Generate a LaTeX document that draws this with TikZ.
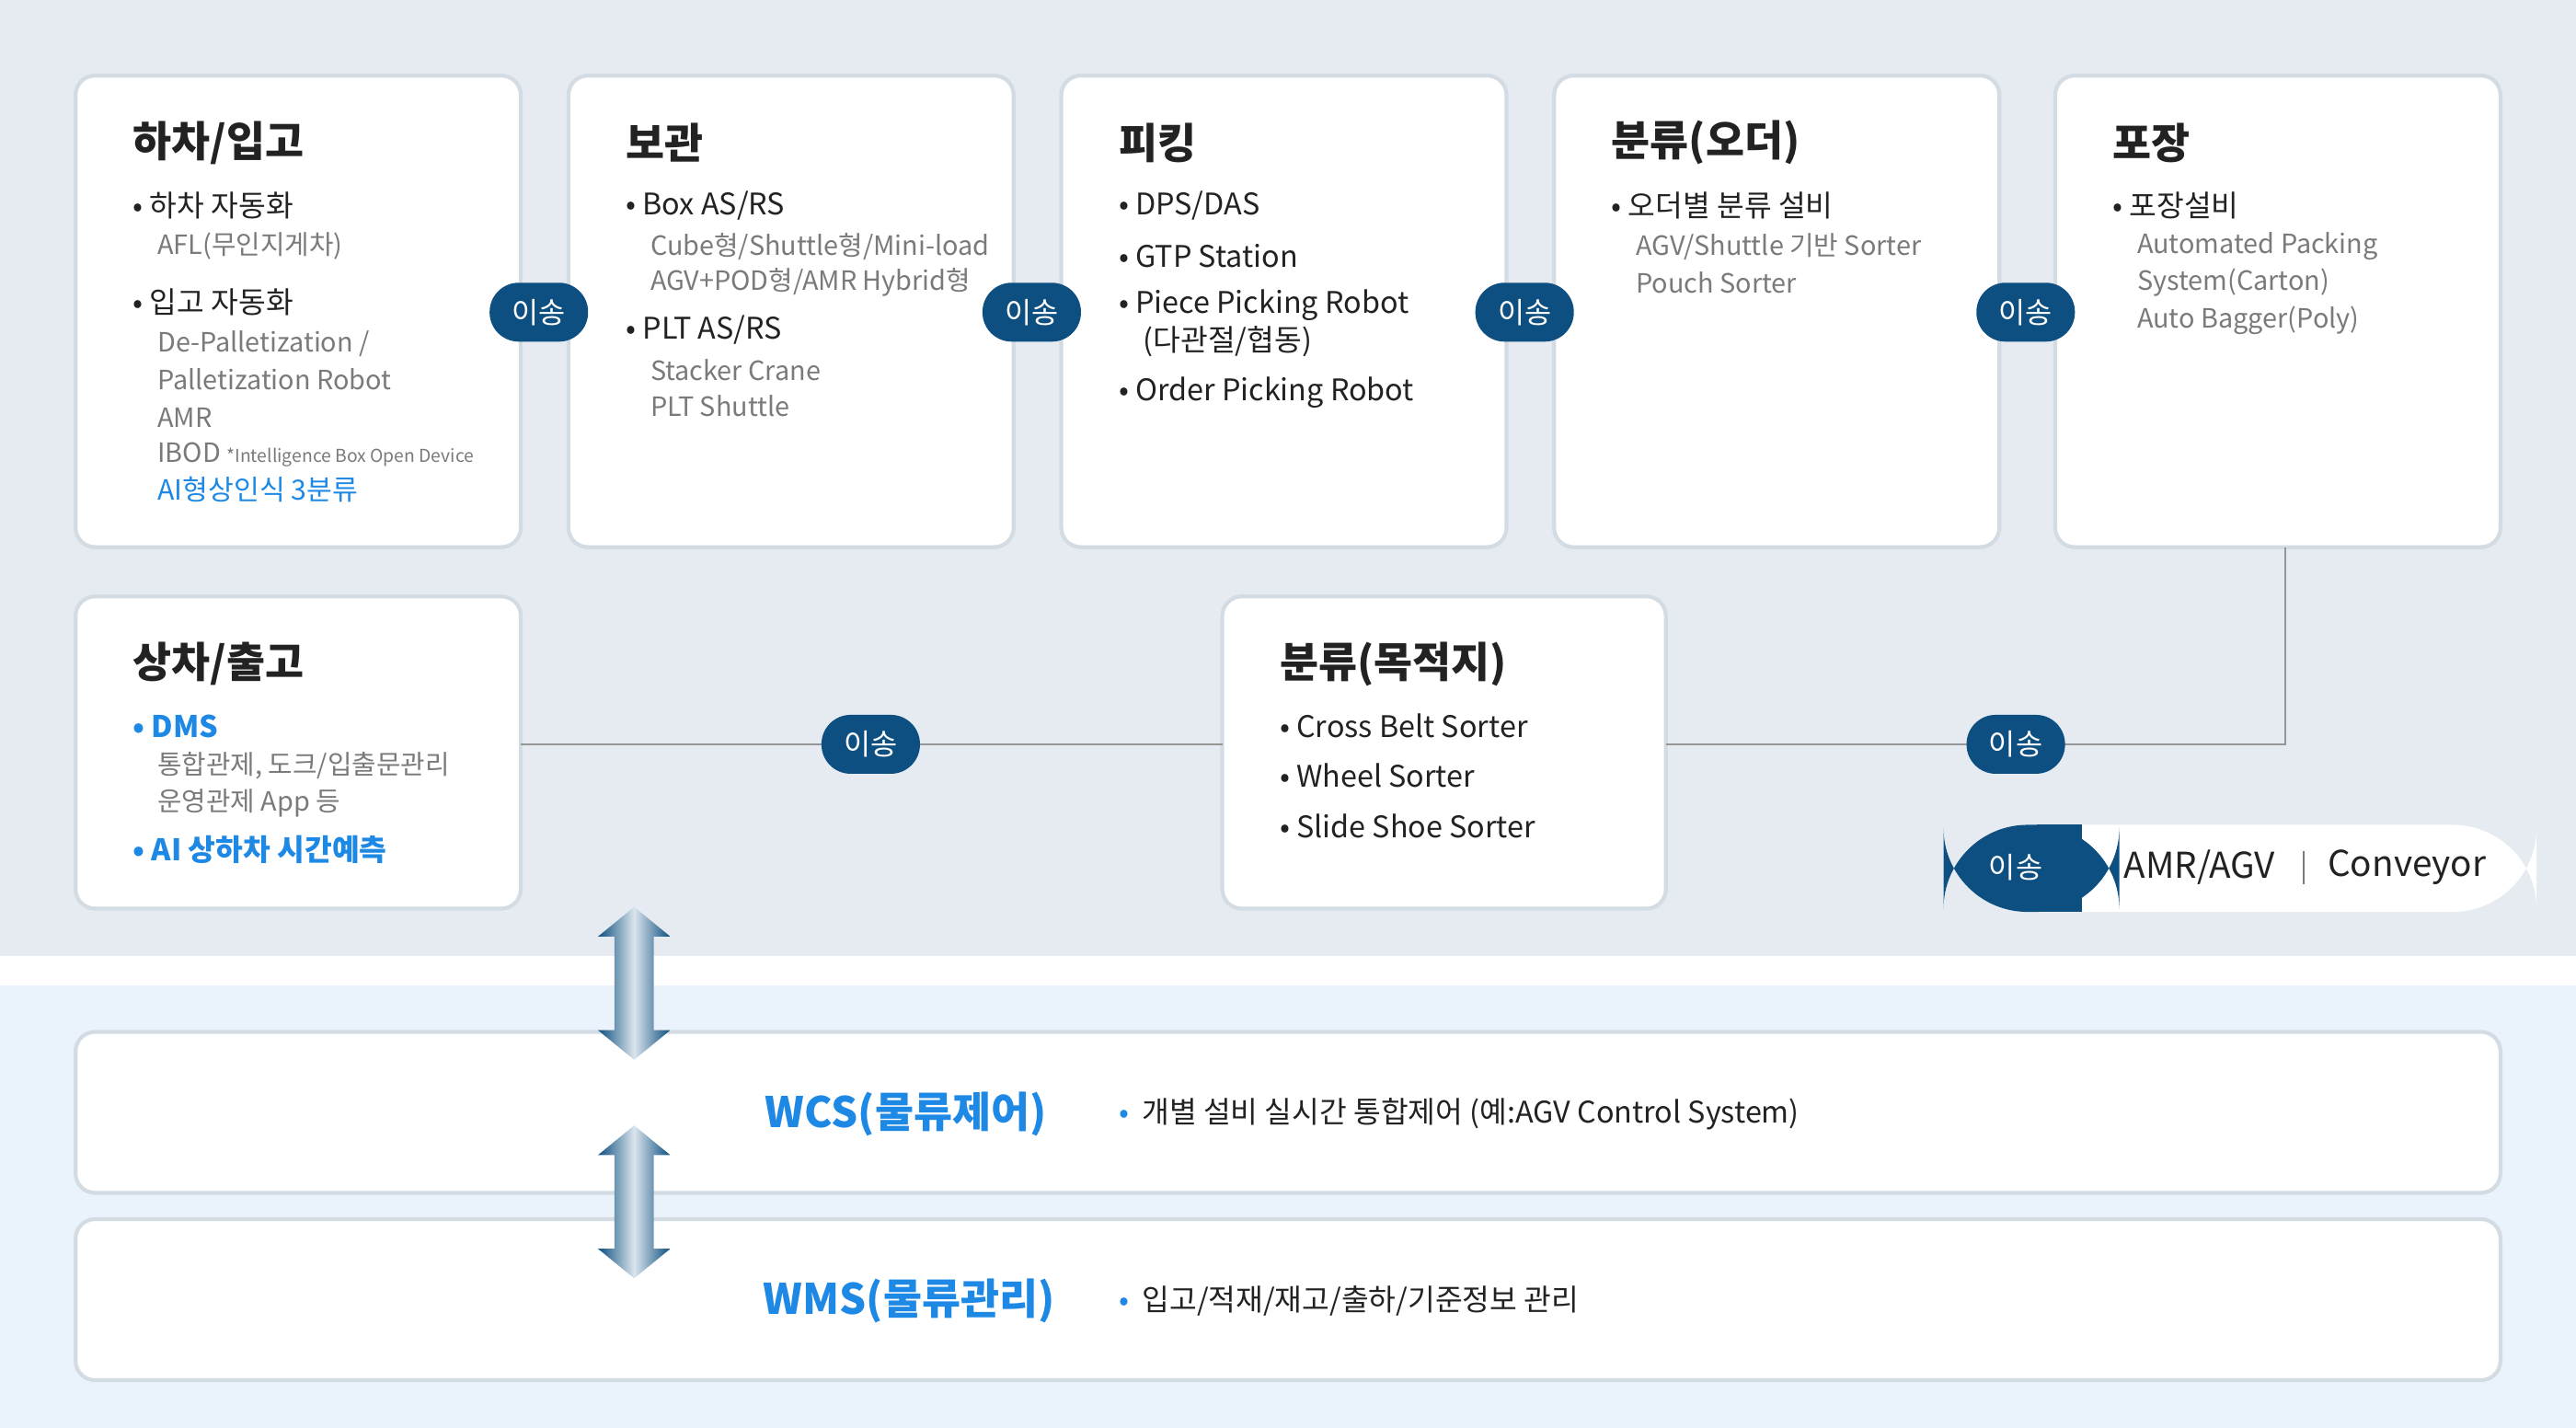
\documentclass[tikz,border=0pt]{standalone}
\usepackage{fontspec}
\setmainfont{Noto Sans CJK KR}
\usetikzlibrary{positioning}
\definecolor{bgtop}{HTML}{E5EBF1}
\definecolor{bgbot}{HTML}{EAF3FB}
\definecolor{frame}{HTML}{D3DBE3}
\definecolor{pill}{HTML}{0D4F80}
\definecolor{ink}{HTML}{222222}
\definecolor{sub}{HTML}{7A7A7A}
\definecolor{accent}{HTML}{1E88E5}
\tikzset{
  card/.style={draw=frame,line width=1.2pt,fill=white,rounded corners=6pt},
  ttl/.style={anchor=west,font=\fontsize{13}{13}\selectfont\bfseries,text=ink},
  itm/.style={anchor=west,font=\fontsize{9.2}{9.2}\selectfont,text=ink},
  gry/.style={anchor=west,font=\fontsize{8.2}{8.2}\selectfont,text=sub},
  blu/.style={anchor=west,font=\fontsize{8.6}{8.6}\selectfont,text=accent},
  move/.style={fill=pill,text=white,rounded corners=9pt,minimum width=1.07cm,minimum height=0.64cm,inner sep=0pt,font=\fontsize{9}{9}\selectfont},
  link/.style={draw=sub!80,line width=0.6pt}
}
\newcommand{\twoarrow}[2]{% x, top y
  \shade[left color=pill,right color=pill,middle color=white!85!pill]
    (#1-22,#2+18)--(#1,#2)--(#1+22,#2+18)--(#1+12,#2+18)--(#1+12,#2+75)--(#1+22,#2+75)
    --(#1,#2+93)--(#1-22,#2+75)--(#1-12,#2+75)--(#1-12,#2+18)--cycle;}
\begin{document}
\begin{tikzpicture}[x=0.017857cm,y=-0.017857cm]
\fill[bgtop] (0,0) rectangle (1568,582);
\fill[white] (0,582) rectangle (1568,600);
\fill[bgbot] (0,600) rectangle (1568,869);
\useasboundingbox (0,0) rectangle (1568,869);

% top row
\draw[card] (46,46) rectangle (317,333);
\draw[card] (346,46) rectangle (617,333);
\draw[card] (646,46) rectangle (917,333);
\draw[card] (946,46) rectangle (1217,333);
\draw[card] (1251,46) rectangle (1522,333);
% second row
\draw[card] (46,363) rectangle (317,553);
\draw[card] (744,363) rectangle (1014,553);

% connectors
\coordinate (pkbot) at (1391,333);
\coordinate (pkcorner) at (1391,453);
\draw[link] (317,453) -- (744,453);
\draw[link] (1014,453) -- (pkcorner) -- (pkbot);

% box 1
\node[ttl] (t1) at (74,87) {하차/입고};
\node[itm] (a1) at (74,125) {•\ 하차 자동화};
\node[gry] (a2) at (89,150) {AFL(무인지게차)};
\node[itm] (a3) at (74,184) {•\ 입고 자동화};
\node[gry] (a4) at (89,209) {De-Palletization /};
\node[gry] (a5) at (89,231) {Palletization Robot};
\node[gry] (a6) at (89,254) {AMR};
\node[gry] (a7) at (89,277) {IBOD \fontsize{5.5}{5.5}\selectfont *Intelligence Box Open Device};
\node[blu] (a8) at (89,298) {AI형상인식 3분류};
% box 2
\node[ttl] (t2) at (374,87) {보관};
\node[itm] (b1) at (374,125) {•\ Box AS/RS};
\node[gry] (b2) at (389,150) {Cube형/Shuttle형/Mini-load};
\node[gry] (b3) at (389,172) {AGV+POD형/AMR Hybrid형};
\node[itm] (b4) at (374,201) {•\ PLT AS/RS};
\node[gry] (b5) at (389,225) {Stacker Crane};
\node[gry] (b6) at (389,247) {PLT Shuttle};
% box 3
\node[ttl] (t3) at (674,87) {피킹};
\node[itm] (c1) at (674,125) {•\ DPS/DAS};
\node[itm] (c2) at (674,156) {•\ GTP Station};
\node[itm] (c3) at (674,186) {•\ Piece Picking Robot};
\node[itm] (c4) at (689,208) {(다관절/협동)};
\node[itm] (c5) at (674,239) {•\ Order Picking Robot};
% box 4
\node[ttl] (t4) at (974,87) {분류(오더)};
\node[itm] (d1) at (974,125) {•\ 오더별 분류 설비};
\node[gry] (d2) at (989,150) {AGV/Shuttle 기반 Sorter};
\node[gry] (d3) at (989,172) {Pouch Sorter};
% box 5
\node[ttl] (t5) at (1279,87) {포장};
\node[itm] (e1) at (1279,125) {•\ 포장설비};
\node[gry] (e2) at (1294,150) {Automated Packing};
\node[gry] (e3) at (1294,172) {System(Carton)};
\node[gry] (e4) at (1294,195) {Auto Bagger(Poly)};
% box 6
\node[ttl] (t6) at (74,404) {상차/출고};
\node[blu,font=\fontsize{9.2}{9.2}\selectfont\bfseries] (f1) at (74,442) {•\ DMS};
\node[gry] (f2) at (89,466) {통합관제, 도크/입출문관리};
\node[gry] (f3) at (89,489) {운영관제 App 등};
\node[blu,font=\fontsize{9.2}{9.2}\selectfont\bfseries] (f4) at (74,517) {•\ AI 상하차 시간예측};
% box 7
\node[ttl] (t7) at (772,404) {분류(목적지)};
\node[itm] (g1) at (772,442) {•\ Cross Belt Sorter};
\node[itm] (g2) at (772,472) {•\ Wheel Sorter};
\node[itm] (g3) at (772,503) {•\ Slide Shoe Sorter};

% transfer pills
\node[move] (m1) at (328,190) {이송};
\node[move] (m2) at (628,190) {이송};
\node[move] (m3) at (928,190) {이송};
\node[move] (m4) at (1233,190) {이송};
\node[move] (m5) at (530,453) {이송};
\node[move] (m6) at (1227,453) {이송};

% legend
\fill[white,rounded corners=26pt] (1183,502) rectangle (1544,555);
\fill[pill,rounded corners=26pt] (1183,502) rectangle (1290,555);
\fill[pill] (1240,502) rectangle (1267,555);
\node[text=white,font=\fontsize{9}{9}\selectfont] (lg1) at (1227,528) {이송};
\node[anchor=west,text=ink,font=\fontsize{11}{11}\selectfont] (lg2) at (1286,528) {AMR/AGV};
\draw[sub,line width=0.6pt] (1402,518) -- (1402,538);
\node[anchor=west,text=ink,font=\fontsize{11}{11}\selectfont] (lg3) at (1410,528) {Conveyor};

% system layers
\draw[card] (46,628) rectangle (1522,726);
\draw[card] (46,742) rectangle (1522,840);
\node[anchor=east,text=accent,font=\fontsize{13}{13}\selectfont\bfseries] (wcs) at (644,678) {WCS(물류제어)};
\node[itm] (wcsd) at (674,678) {{\color{accent}•}\ \ 개별 설비 실시간 통합제어 (예:AGV Control System)};
\node[anchor=east,text=accent,font=\fontsize{13}{13}\selectfont\bfseries] (wms) at (649,792) {WMS(물류관리)};
\node[itm] (wmsd) at (674,792) {{\color{accent}•}\ \ 입고/적재/재고/출하/기준정보 관리};

\twoarrow{386}{552}
\twoarrow{386}{685}
\end{tikzpicture}
\end{document}
